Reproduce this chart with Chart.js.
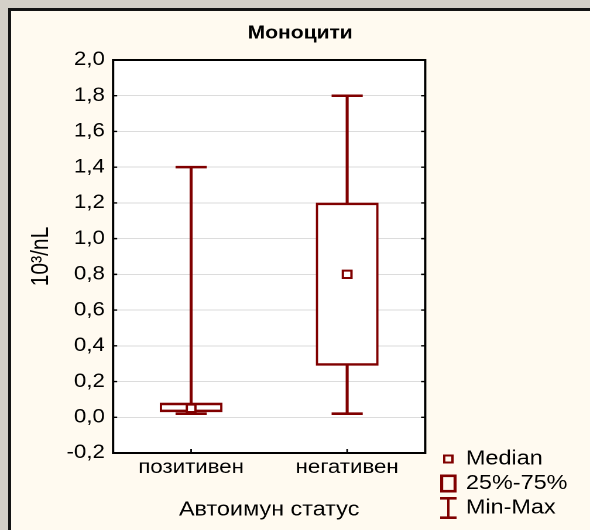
<!DOCTYPE html>
<html><head><meta charset="utf-8">
<script src="https://cdn.jsdelivr.net/npm/chart.js@4"></script>
<style>
html,body{margin:0;padding:0;background:#d4d0c8;width:590px;height:530px;overflow:hidden;}
#panel{position:absolute;left:8px;top:8px;width:600px;height:560px;background:#fffaf0;border-left:3px solid #141414;border-top:3px solid #141414;}
#c{position:absolute;left:0;top:0;width:590px !important;height:530px !important;}
</style></head><body>
<div id="panel"></div>
<canvas id="c" width="504" height="530"></canvas>
<script>
// ---- data ----
const categories = ['позитивен', 'негативен'];
const minValues = [0.02, 0.02];
const q1Values = [0.03, 0.29];
const medianValues = [0.05, 0.80];
const q3Values = [0.08, 1.20];
const maxValues = [1.40, 1.80];
const yTicks = [-0.2, 0.0, 0.2, 0.4, 0.6, 0.8, 1.0, 1.2, 1.4, 1.6, 1.8, 2.0];
const legendLabels = ['Median', '25%-75%', 'Min-Max'];
const chartTitle = 'Моноцити';
const xTitle = 'Автоимун статус';
const yTitle = '10³/nL';

const RED = '#800000';
const FAMILY = '"Liberation Sans", Arial, sans-serif';
Chart.defaults.font.family = FAMILY;
Chart.defaults.color = '#000';

function makeIcon(w, h, draw) {
  const s = 4;
  const cv = document.createElement('canvas');
  cv.width = w * s; cv.height = h * s;
  const c = cv.getContext('2d');
  c.scale(s, s);
  draw(c);
  const img = new Image();
  img.width = w; img.height = h;
  img.src = cv.toDataURL();
  return img;
}
const icons = [
  makeIcon(9, 9, c => { c.strokeStyle = RED; c.lineWidth = 2; c.strokeRect(1, 1, 7, 7); }),
  makeIcon(14, 18, c => { c.strokeStyle = RED; c.lineWidth = 2.6; c.strokeRect(1.3, 1.3, 11.4, 15.4); }),
  makeIcon(14, 22, c => { c.fillStyle = RED; c.fillRect(0, 0, 14, 2.6); c.fillRect(0, 19.4, 14, 2.6); c.fillRect(6, 0, 2, 22); })
];

const framePlugin = {
  id: 'frame',
  beforeDraw(chart) {
    const {ctx, chartArea: a} = chart;
    ctx.save();
    ctx.fillStyle = '#ffffff';
    ctx.fillRect(a.left, a.top, a.right - a.left, a.bottom - a.top);
    ctx.restore();
  },
  afterDraw(chart) {
    const {ctx, chartArea: a} = chart;
    const ys = chart.scales.y, xs = chart.scales.x;
    ctx.save();
    ctx.strokeStyle = '#000';
    ctx.lineWidth = 1.4;
    ctx.beginPath();
    ys.ticks.forEach(t => {
      const py = ys.getPixelForValue(t.value);
      ctx.moveTo(a.left, py); ctx.lineTo(a.left + 3.5, py);
      ctx.moveTo(a.right - 3.5, py); ctx.lineTo(a.right, py);
    });
    categories.forEach((c, i) => {
      const px = xs.getPixelForValue(i);
      ctx.moveTo(px, a.bottom); ctx.lineTo(px, a.bottom - 4);
    });
    ctx.stroke();
    ctx.lineWidth = 2;
    ctx.strokeRect(a.left, a.top, a.right - a.left, a.bottom - a.top);
    ctx.restore();
  }
};

(async () => {
  try { await Promise.all(icons.map(i => i.decode())); } catch (e) {}
  new Chart(document.getElementById('c'), {
    type: 'bar',
    data: {
      labels: categories,
      datasets: [
        {
          type: 'line', label: 'Median', data: medianValues, order: 0,
          showLine: false, pointStyle: 'rect', pointRadius: 5.2, pointHoverRadius: 5.2,
          pointBorderWidth: 2, pointBorderColor: RED, pointBackgroundColor: '#ffffff'
        },
        {
          type: 'line', label: 'Max', data: maxValues, order: 1,
          showLine: false, pointStyle: 'line', pointRadius: 13.3, pointHoverRadius: 13.3,
          pointBorderWidth: 2.5, pointBorderColor: RED
        },
        {
          type: 'line', label: 'Min', data: minValues, order: 1,
          showLine: false, pointStyle: 'line', pointRadius: 13.3, pointHoverRadius: 13.3,
          pointBorderWidth: 2.7, pointBorderColor: RED
        },
        {
          label: '25%-75%', data: categories.map((c, i) => [q1Values[i], q3Values[i]]), order: 2,
          grouped: false, barThickness: 53, backgroundColor: '#ffffff', borderColor: RED,
          borderWidth: {top: 2.6, bottom: 2.6, left: 2, right: 2}, borderSkipped: false
        },
        {
          label: 'Min-Max', data: categories.map((c, i) => [minValues[i], maxValues[i]]), order: 3,
          grouped: false, barThickness: 1.9, backgroundColor: RED, borderWidth: 0
        }
      ]
    },
    options: {
      responsive: false,
      animation: false,
      devicePixelRatio: 2,
      events: [],
      layout: {padding: {left: 21.3, right: 12.5, top: 0, bottom: 7.5}},
      plugins: {
        title: {
          display: true, text: chartTitle, color: '#000',
          font: {family: FAMILY, size: 18, weight: 'bold'},
          padding: {top: 22.7, bottom: 15.7}
        },
        legend: {
          position: 'right', align: 'end', maxWidth: 118,
          labels: {
            usePointStyle: true, pointStyleWidth: 10, padding: 4.5, color: '#000',
            font: {family: FAMILY, size: 20},
            generateLabels: () => legendLabels.map((t, i) => ({
              text: t, pointStyle: icons[i], fillStyle: 'rgba(0,0,0,0)',
              strokeStyle: 'rgba(0,0,0,0)', lineWidth: 0, hidden: false, fontColor: '#000'
            }))
          }
        },
        tooltip: {enabled: false}
      },
      scales: {
        x: {
          type: 'category', offset: true,
          grid: {display: false, drawTicks: false},
          border: {display: false},
          ticks: {color: '#000', font: {size: 19}, padding: 3.6},
          title: {display: true, text: xTitle, color: '#000', font: {size: 20}, padding: {top: 0, bottom: 0.5}},
          afterFit(s) { s.height = 69.5; }
        },
        y: {
          type: 'linear', min: -0.2, max: 2.0,
          afterBuildTicks(s) { s.ticks = yTicks.map(v => ({value: v})); },
          grid: {color: '#dcdcdc', lineWidth: 1, drawTicks: false},
          border: {display: false},
          ticks: {
            color: '#000', font: {size: 19}, padding: 7,
            callback: v => Number(v).toFixed(1).replace('.', ',')
          },
          title: {display: true, text: yTitle, color: '#000', font: {size: 21}, padding: {top: 1.2, bottom: 0}},
          afterFit(s) { s.width = 75.3; }
        },
        y2: {
          type: 'linear', position: 'right', display: true,
          grid: {display: false, drawTicks: false}, border: {display: false},
          ticks: {display: false},
          afterFit(s) { s.width = 10.3; }
        }
      }
    },
    plugins: [framePlugin]
  });
})();
</script>
</body></html>
